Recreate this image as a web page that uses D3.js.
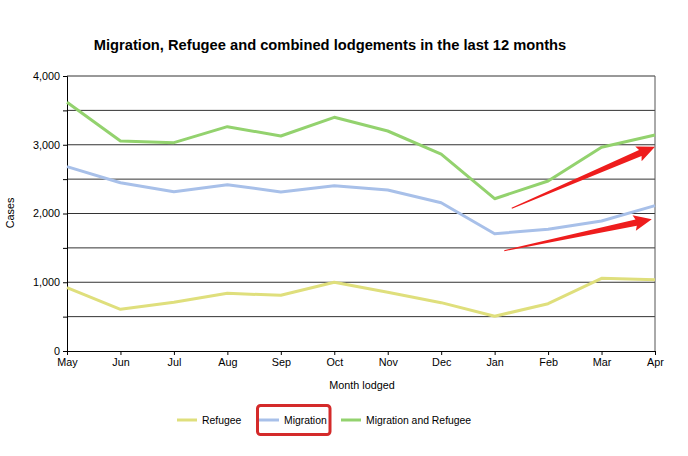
<!DOCTYPE html>
<html><head><meta charset="utf-8">
<script src="https://cdn.jsdelivr.net/npm/d3@7"></script>
<style>body{margin:0;background:#fff;}svg{display:block;font-family:"Liberation Sans",Arial,sans-serif;}</style>
</head><body><svg id="c" width="688" height="456"></svg>
<script>
const months = ["May","Jun","Jul","Aug","Sep","Oct","Nov","Dec","Jan","Feb","Mar","Apr"];
const refugee = [921,606,708,839,810,999,854,703,505,688,1057,1037];
const migration = [2681,2448,2317,2419,2313,2405,2342,2157,1706,1770,1891,2114];
const combined = [3617,3054,3030,3263,3127,3399,3200,2865,2215,2473,2963,3142];
const yTicks = [0,1000,2000,3000,4000];
const gridTicks = [500,1000,1500,2000,2500,3000,3500,4000];
const seriesNames = ["Refugee","Migration","Migration and Refugee"];
// arrows in data space: [tailIndex, tailValue, tipIndex, tipValue]
const arrows = [[8.32,2076,11,2972],[8.18,1459,10.94,1916]];

const colors = ["#dfdf7c","#a8c0e9","#93d26e"];
const svg = d3.select("#c");
const L=67,R=655,T=76,B=351;
const x = d3.scalePoint().domain(months).range([L,R]);
const xi = d3.scaleLinear().domain([0,11]).range([L,R]);
const y = d3.scaleLinear().domain([0,4000]).range([B,T]);

svg.append("text").attr("x",330).attr("y",50).attr("text-anchor","middle")
  .attr("font-weight","bold").attr("font-size",14.7).attr("fill","#000")
  .text("Migration, Refugee and combined lodgements in the last 12 months");

// grid
svg.append("g").selectAll("line").data(gridTicks).join("line")
  .attr("x1",L).attr("x2",R).attr("y1",d=>y(d)).attr("y2",d=>y(d))
  .attr("stroke","#333").attr("stroke-width",1);
// right border
svg.append("line").attr("x1",R).attr("x2",R).attr("y1",T).attr("y2",B).attr("stroke","#555");

const ya = svg.append("g").attr("transform",`translate(${L},0)`)
  .call(d3.axisLeft(y).tickValues(gridTicks.concat([0])).tickSize(4).tickFormat(d=>yTicks.includes(d)?d3.format(",")(d):""));
const xa = svg.append("g").attr("transform",`translate(0,${B})`)
  .call(d3.axisBottom(x).tickSize(4).tickPadding(3));
[ya,xa].forEach(a=>{a.select(".domain").attr("stroke","#000");a.selectAll("line").attr("stroke","#000");
  a.selectAll("text").attr("font-size",10.8).attr("fill","#000").attr("font-family","Liberation Sans, Arial, sans-serif");});

svg.append("text").attr("x",362).attr("y",389).attr("text-anchor","middle").attr("font-size",10.8).text("Month lodged");
svg.append("text").attr("transform","translate(14,213) rotate(-90)").attr("text-anchor","middle").attr("font-size",10.8).text("Cases");

const line = d3.line().x((d,i)=>x(months[i])).y(d=>y(d));
[refugee,migration,combined].forEach((s,k)=>{
  svg.append("path").datum(s).attr("d",line).attr("fill","none")
    .attr("stroke",colors[k]).attr("stroke-width",3).attr("stroke-linejoin","round");
});

// arrows
arrows.forEach(a=>{
  const x0=xi(a[0]),y0=y(a[1]),x1=xi(a[2]),y1=y(a[3]);
  const dx=x1-x0,dy=y1-y0,len=Math.hypot(dx,dy),ux=dx/len,uy=dy/len,nx=-uy,ny=ux;
  const hl=16,hw=8,sw=3.2;
  const bx=x1-ux*hl,by=y1-uy*hl;
  const pts=[[x0+nx*0.5,y0+ny*0.5],[bx+nx*sw,by+ny*sw],[bx+nx*hw-ux*2,by+ny*hw-uy*2],[x1,y1],
    [bx-nx*hw-ux*2,by-ny*hw-uy*2],[bx-nx*sw,by-ny*sw],[x0-nx*0.5,y0-ny*0.5]];
  svg.append("path").attr("d","M"+pts.map(p=>p.join(",")).join("L")+"Z").attr("fill","#ee1d1d");
});

// legend
const lx=[177,259,341];
seriesNames.forEach((n,k)=>{
  svg.append("line").attr("x1",lx[k]).attr("x2",lx[k]+20).attr("y1",420).attr("y2",420)
    .attr("stroke",colors[k]).attr("stroke-width",3);
  svg.append("text").attr("x",lx[k]+25).attr("y",424).attr("font-size",10.4).text(n);
});
svg.append("rect").attr("x",257.5).attr("y",405.5).attr("width",72.5).attr("height",29).attr("rx",3)
  .attr("fill","none").attr("stroke","#d42a2a").attr("stroke-width",3);
</script></body></html>
